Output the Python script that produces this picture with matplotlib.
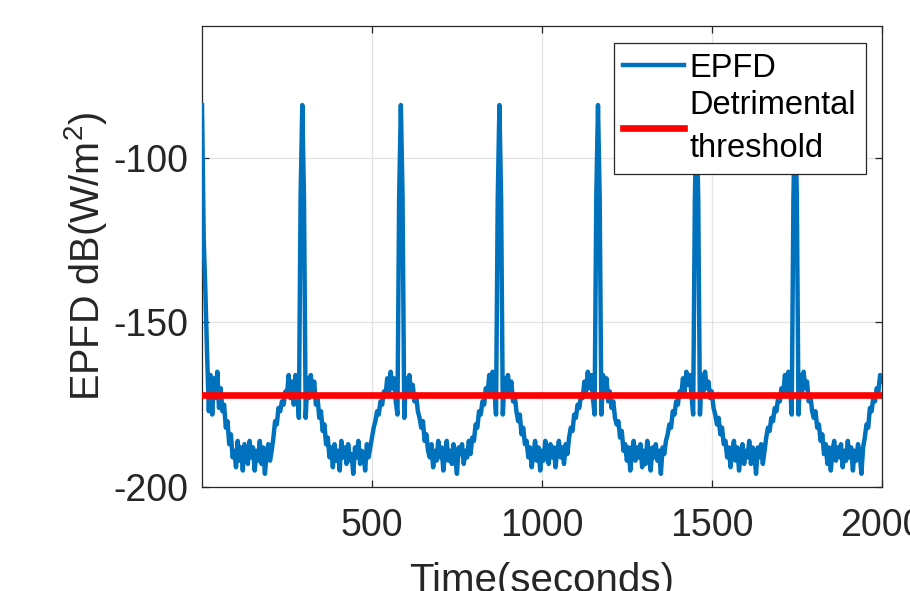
import numpy as np
import matplotlib
matplotlib.use('Agg')
import matplotlib.pyplot as plt

# EPFD samples, one every 5 s from 0 to 2000 s
time_s = np.arange(0, 2001, 5)
epfd = [
    -84, -125, -141, -160, -177, -166, -178, -167, -173, -165, -176, -170, -177, -175, -182, -180, -187, -184, -191, -189,
    -194, -186, -192, -188, -195, -187, -190, -193, -186, -191, -188, -195, -189, -192, -186, -193, -188, -196, -190, -187,
    -192, -189, -185, -180, -181, -176, -177, -174, -175, -171, -172, -166, -173, -168, -175, -166, -171, -179, -112, -84,
    -112, -179, -167, -173, -166, -172, -168, -175, -173, -179, -177, -183, -181, -187, -185, -191, -188, -194, -187, -192,
    -189, -195, -186, -191, -188, -193, -187, -192, -190, -196, -188, -191, -186, -193, -189, -190, -195, -187, -191, -188,
    -185, -182, -180, -177, -178, -174, -175, -171, -172, -167, -172, -165, -170, -167, -174, -178, -112, -84, -112, -179,
    -167, -172, -166, -171, -169, -174, -172, -177, -179, -182, -180, -186, -184, -189, -191, -187, -194, -189, -192, -186,
    -191, -188, -195, -190, -186, -192, -189, -193, -187, -191, -196, -188, -190, -187, -193, -189, -191, -186, -190, -185,
    -186, -181, -182, -177, -178, -174, -175, -170, -172, -166, -171, -165, -169, -178, -113, -84, -113, -178, -167, -172,
    -166, -171, -168, -174, -172, -177, -180, -178, -184, -182, -187, -186, -191, -188, -194, -190, -186, -192, -188, -195,
    -189, -192, -186, -190, -193, -187, -191, -188, -194, -189, -186, -191, -188, -193, -187, -190, -185, -182, -183, -178,
    -179, -175, -176, -172, -173, -168, -171, -165, -170, -166, -173, -178, -112, -84, -112, -178, -166, -172, -167, -174,
    -171, -176, -174, -179, -181, -180, -185, -183, -189, -187, -192, -188, -195, -189, -186, -192, -188, -191, -187, -194,
    -189, -193, -186, -190, -195, -188, -191, -187, -192, -189, -196, -188, -190, -186, -184, -181, -182, -177, -178, -174,
    -175, -171, -172, -167, -171, -165, -169, -166, -172, -178, -113, -84, -113, -178, -166, -171, -165, -170, -168, -173,
    -171, -176, -178, -181, -179, -184, -182, -187, -186, -191, -188, -194, -189, -186, -192, -188, -195, -190, -187, -193,
    -189, -191, -186, -193, -188, -190, -196, -188, -191, -187, -193, -189, -185, -182, -183, -179, -180, -176, -177, -173,
    -174, -170, -172, -166, -171, -165, -169, -178, -112, -84, -112, -178, -166, -172, -165, -170, -168, -174, -172, -177,
    -179, -177, -182, -181, -186, -184, -190, -187, -193, -188, -195, -189, -186, -192, -188, -191, -187, -194, -189, -192,
    -186, -191, -188, -195, -189, -192, -187, -190, -196, -188, -185, -181, -182, -176, -177, -173, -174, -170, -171, -166,
    -168,
]
threshold = -172

x_ticks = [500, 1000, 1500, 2000]
y_ticks = [-200, -150, -100]

plt.rcParams['font.family'] = ['Liberation Sans', 'DejaVu Sans']
plt.rcParams['mathtext.default'] = 'regular'
plt.rcParams['axes.unicode_minus'] = False

fig = plt.figure(figsize=(9.1, 5.91), dpi=100)
ax = fig.add_axes([0.222, 0.176, 0.747, 0.780])

ax.plot(time_s, epfd, color='#0072BD', linewidth=3.2, label='EPFD', zorder=3)
ax.axhline(threshold, color='#FF0000', linewidth=4.8, label='Detrimental\nthreshold', zorder=4)

ax.set_xlim(0, 2000)
ax.set_ylim(-200, -60)
ax.set_xticks(x_ticks)
ax.set_yticks(y_ticks)

ax.grid(True, color='#e3e3e3', linewidth=0.9)
ax.set_axisbelow(True)
for sp in ax.spines.values():
    sp.set_color('#262626')
    sp.set_linewidth(0.9)
ax.tick_params(direction='in', length=5, width=0.9, top=True, right=True,
               labelsize=27, colors='#262626', labelcolor='#262626')
ax.tick_params(axis='x', pad=15)
ax.tick_params(axis='y', pad=10)

ax.set_xlabel('Time(seconds)', fontsize=29, color='#262626')
ax.set_ylabel('EPFD dB(W/m$^2$)', fontsize=28.5, color='#262626')
ax.xaxis.set_label_coords(0.5, -0.163)
ax.yaxis.set_label_coords(-0.137, 0.5)

leg = ax.legend(loc='upper right', bbox_to_anchor=(866 / 910, 1 - 43 / 591),
                bbox_transform=fig.transFigure, fontsize=23.5, frameon=True,
                fancybox=False, framealpha=1, edgecolor='#262626',
                handlelength=1.85, handletextpad=0.18, borderpad=0.3,
                labelspacing=0.2, borderaxespad=0)
leg.get_frame().set_linewidth(0.9)
for txt in leg.get_texts():
    txt.set_linespacing(1.5)

fig.savefig('out.png', dpi=100)
